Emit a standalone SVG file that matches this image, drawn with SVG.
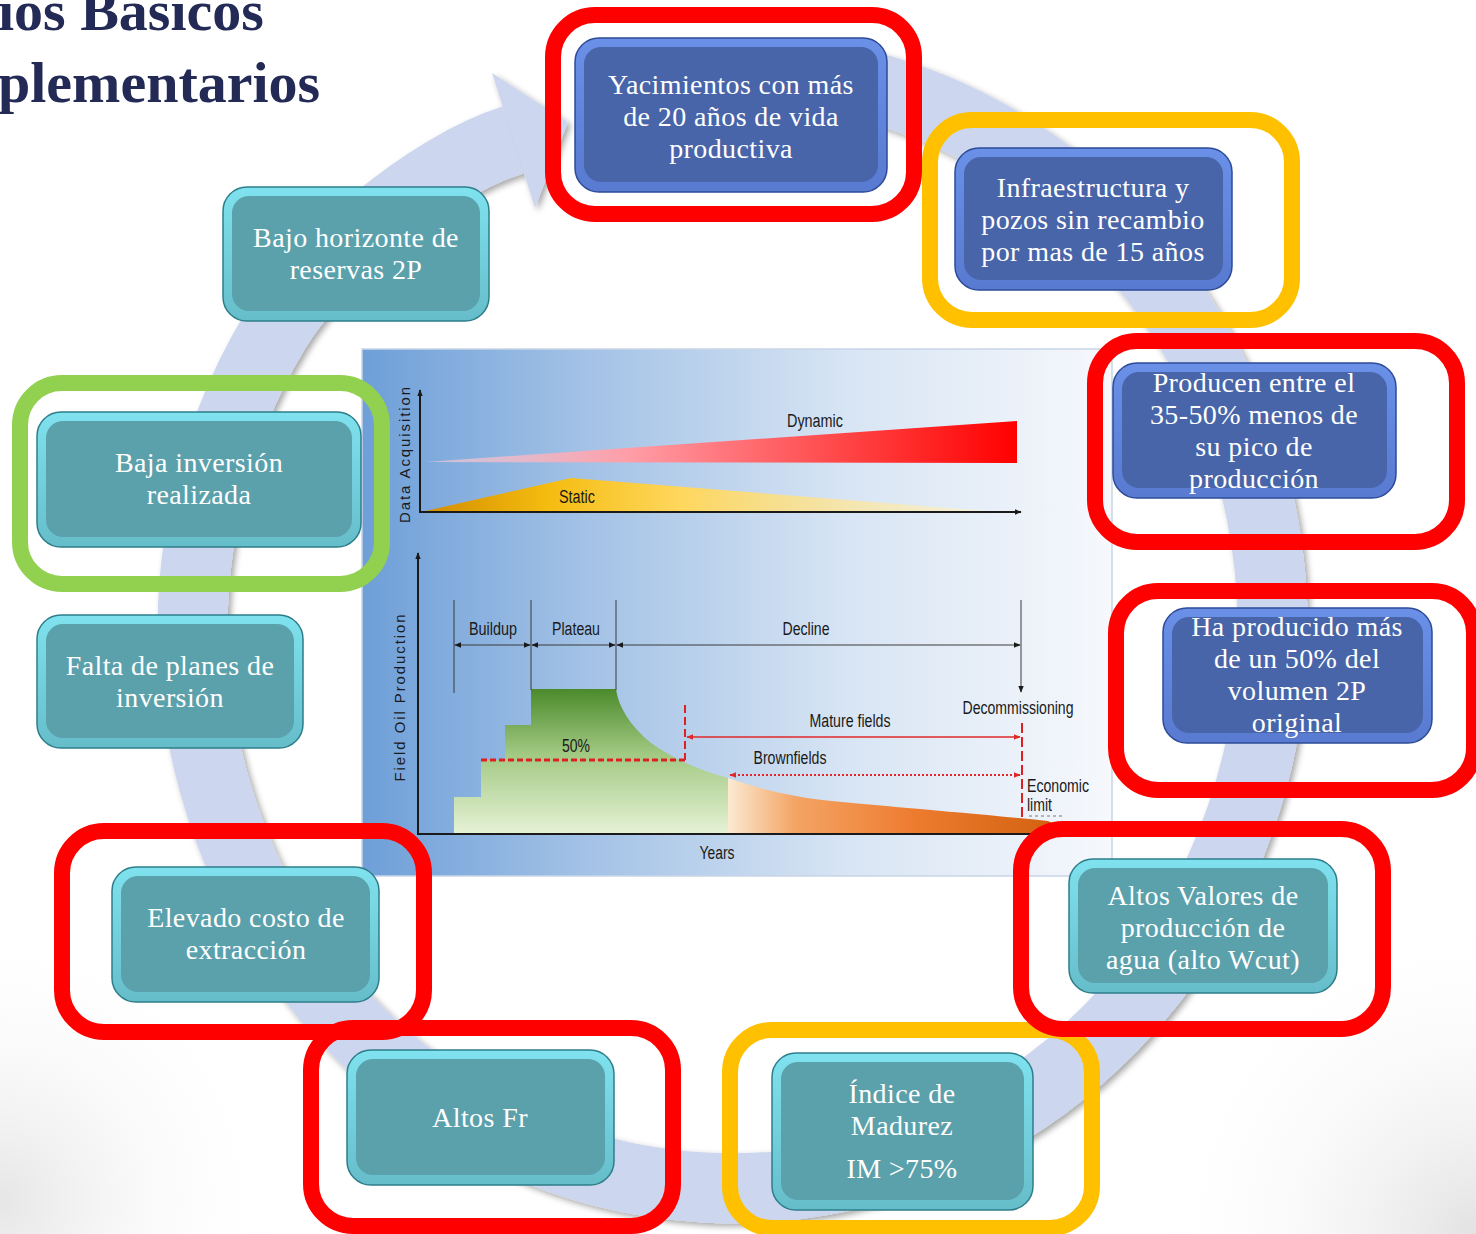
<svg xmlns="http://www.w3.org/2000/svg" width="1476" height="1234" viewBox="0 0 1476 1234">
<defs>
<style>
.title{font-family:"Liberation Serif","DejaVu Serif",serif;font-weight:bold;font-size:58px;fill:#232A55}
.lbl{font-family:"Liberation Serif","DejaVu Serif",serif;font-size:28px;letter-spacing:0.4px;fill:#ffffff;text-anchor:middle}
.ch{font-family:"Liberation Sans",Arial,sans-serif;font-size:18px;fill:#1a1a1a;text-anchor:middle}
.ax{font-family:"Liberation Sans",Arial,sans-serif;font-size:15px;fill:#1a1a1a;letter-spacing:1.9px;text-anchor:middle}
.frame{fill:none;stroke-width:16}
.red{stroke:#FF0000}.yel{stroke:#FFC000}.grn{stroke:#92D050}
.rimT{fill:url(#gRimT);stroke:#2E7E8A;stroke-width:1.5}
.faceT{fill:#5BA1AC}
.rimB{fill:url(#gRimB);stroke:#2D4B97;stroke-width:1.5}
.faceB{fill:#4965A9}
.axis{stroke:#1a1a1a;stroke-width:2;fill:none}
.thin{stroke:#3a3a3a;stroke-width:1;fill:none}
.band{fill:none;stroke:#CCD6EE;stroke-width:70}
</style>
<linearGradient id="gRimT" x1="0" y1="0" x2="0" y2="1"><stop offset="0" stop-color="#7FE2EE"/><stop offset="1" stop-color="#66BDCA"/></linearGradient>
<linearGradient id="gRimB" x1="0" y1="0" x2="0" y2="1"><stop offset="0" stop-color="#6A90E8"/><stop offset="1" stop-color="#587AD0"/></linearGradient>
<linearGradient id="gPanel" x1="0" y1="0" x2="1" y2="0"><stop offset="0" stop-color="#6E9FD8"/><stop offset="0.3" stop-color="#A3C2E6"/><stop offset="0.65" stop-color="#D8E5F4"/><stop offset="1" stop-color="#F6F8FC"/></linearGradient>
<linearGradient id="gDyn" x1="425" y1="0" x2="1017" y2="0" gradientUnits="userSpaceOnUse"><stop offset="0" stop-color="#F5D0DA" stop-opacity="0.6"/><stop offset="0.35" stop-color="#FF9CA6"/><stop offset="0.75" stop-color="#FF3B3B"/><stop offset="1" stop-color="#FF0000"/></linearGradient>
<linearGradient id="gStat" x1="421" y1="0" x2="1000" y2="0" gradientUnits="userSpaceOnUse"><stop offset="0" stop-color="#D08C00"/><stop offset="0.22" stop-color="#F5BC10"/><stop offset="0.45" stop-color="#FFD75E"/><stop offset="1" stop-color="#FFF3C8" stop-opacity="0.5"/></linearGradient>
<linearGradient id="gGreen" x1="0" y1="689" x2="0" y2="834" gradientUnits="userSpaceOnUse"><stop offset="0" stop-color="#4B8A2B"/><stop offset="0.45" stop-color="#A2C983"/><stop offset="1" stop-color="#E6F2D6"/></linearGradient>
<linearGradient id="gOrange" x1="728" y1="0" x2="1064" y2="0" gradientUnits="userSpaceOnUse"><stop offset="0" stop-color="#FBEAD2"/><stop offset="0.2" stop-color="#F4A464"/><stop offset="0.55" stop-color="#EE7C30"/><stop offset="1" stop-color="#D0600E"/></linearGradient>
<radialGradient id="gCornerR" cx="1476" cy="1234" r="320" gradientUnits="userSpaceOnUse"><stop offset="0" stop-color="#E2E2E2"/><stop offset="1" stop-color="#FFFFFF" stop-opacity="0"/></radialGradient>
<radialGradient id="gCornerL" cx="0" cy="1200" r="280" gradientUnits="userSpaceOnUse"><stop offset="0" stop-color="#E6E6E6"/><stop offset="1" stop-color="#FFFFFF" stop-opacity="0"/></radialGradient>
<filter id="shadow" x="-10%" y="-10%" width="120%" height="120%"><feDropShadow dx="3" dy="3" stdDeviation="3" flood-color="#000" flood-opacity="0.35"/></filter>
<marker id="mA" viewBox="0 0 10 10" refX="9" refY="5" markerWidth="7" markerHeight="7" markerUnits="userSpaceOnUse" orient="auto-start-reverse"><path d="M0,1 L10,5 L0,9 z" fill="#1a1a1a"/></marker>
<marker id="mR" viewBox="0 0 10 10" refX="9" refY="5" markerWidth="7" markerHeight="7" markerUnits="userSpaceOnUse" orient="auto-start-reverse"><path d="M0,1 L10,5 L0,9 z" fill="#E02828"/></marker>
</defs>

<rect width="1476" height="1234" fill="#FFFFFF"/>
<rect width="1476" height="1234" fill="url(#gCornerR)"/>
<rect width="1476" height="1234" fill="url(#gCornerL)"/>

<g id="title">
<text class="title" x="-2" y="30">ios Básicos</text>
<text class="title" x="-2" y="102">plementarios</text>
</g>

<g id="connectors" filter="url(#shadow)">
<path class="band" d="M 860 84 A 540 560 0 1 1 275 331 C 316 262 427 167 513 140"/>
<polygon points="492,73 568,122 535,208" fill="#CCD6EE"/>
</g>

<g id="chart">
<rect x="362" y="349" width="750" height="527" fill="url(#gPanel)" stroke="#C9D5E6" stroke-width="1.5"/>
<polygon points="425,462 1017,421 1017,463" fill="url(#gDyn)"/>
<polygon points="421,512 571,478 1000,512" fill="url(#gStat)"/>
<line class="axis" x1="420" y1="513" x2="420" y2="390" marker-end="url(#mA)"/>
<line class="axis" x1="420" y1="512" x2="1021" y2="512" marker-end="url(#mA)"/>
<text class="ch" x="815" y="427" textLength="56" lengthAdjust="spacingAndGlyphs">Dynamic</text>
<text class="ch" x="577" y="503" textLength="36" lengthAdjust="spacingAndGlyphs">Static</text>
<text class="ax" transform="translate(410,454) rotate(-90)">Data Acquisition</text>

<path d="M454 834 L454 797 L481 797 L481 760 L505 760 L505 725 L531 725 L531 689 L616 689 C618 706 630 726 651 743 C672 758 700 771 728 778 L728 834 Z" fill="url(#gGreen)"/>
<path d="M728 778 C760 789 790 796 822 800 C880 806 960 812 1048 821 L1066 830 L1066 834 L728 834 Z" fill="url(#gOrange)"/>
<line class="axis" x1="418" y1="835" x2="418" y2="553" marker-end="url(#mA)"/>
<line class="axis" x1="417" y1="834" x2="1075" y2="834"/>
<text class="ax" transform="translate(405,697) rotate(-90)">Field Oil Production</text>

<line class="thin" x1="454" y1="600" x2="454" y2="693"/>
<line class="thin" x1="531" y1="600" x2="531" y2="690"/>
<line class="thin" x1="616" y1="600" x2="616" y2="690"/>
<line class="thin" x1="1021" y1="600" x2="1021" y2="692" marker-end="url(#mA)"/>
<line class="thin" x1="455" y1="645" x2="530" y2="645" stroke-width="1.5" marker-start="url(#mA)" marker-end="url(#mA)"/>
<line class="thin" x1="532" y1="645" x2="615" y2="645" stroke-width="1.5" marker-start="url(#mA)" marker-end="url(#mA)"/>
<line class="thin" x1="617" y1="645" x2="1020" y2="645" stroke-width="1.5" marker-start="url(#mA)" marker-end="url(#mA)"/>
<text class="ch" x="493" y="635" textLength="48" lengthAdjust="spacingAndGlyphs">Buildup</text>
<text class="ch" x="576" y="635" textLength="48" lengthAdjust="spacingAndGlyphs">Plateau</text>
<text class="ch" x="806" y="635" textLength="47" lengthAdjust="spacingAndGlyphs">Decline</text>
<text class="ch" x="1018" y="714" textLength="111" lengthAdjust="spacingAndGlyphs">Decommissioning</text>

<line x1="481" y1="760" x2="685" y2="760" stroke="#E02020" stroke-width="3" stroke-dasharray="6 3"/>
<line x1="685" y1="705" x2="685" y2="760" stroke="#E02020" stroke-width="2" stroke-dasharray="8 4"/>
<line x1="1022" y1="723" x2="1022" y2="818" stroke="#E02020" stroke-width="2" stroke-dasharray="10 4"/>
<text class="ch" x="576" y="752" textLength="28" lengthAdjust="spacingAndGlyphs">50%</text>
<line x1="687" y1="737" x2="1020" y2="737" stroke="#E02828" stroke-width="1.5" marker-start="url(#mR)" marker-end="url(#mR)"/>
<text class="ch" x="850" y="727" textLength="81" lengthAdjust="spacingAndGlyphs">Mature fields</text>
<line x1="730" y1="775" x2="1020" y2="775" stroke="#E02828" stroke-width="2" stroke-dasharray="2 2" marker-start="url(#mR)" marker-end="url(#mR)"/>
<text class="ch" x="790" y="764" textLength="73" lengthAdjust="spacingAndGlyphs">Brownfields</text>
<text class="ch" x="1027" y="792" style="text-anchor:start" textLength="62" lengthAdjust="spacingAndGlyphs">Economic</text>
<text class="ch" x="1027" y="811" style="text-anchor:start" textLength="25" lengthAdjust="spacingAndGlyphs">limit</text>
<line x1="1029" y1="816" x2="1063" y2="816" stroke="#777" stroke-width="1" stroke-dasharray="3 3"/>
<text class="ch" x="717" y="859" textLength="35" lengthAdjust="spacingAndGlyphs">Years</text>
</g>

<g id="n-yacimientos">
<rect class="frame red" x="553" y="15" width="361" height="199" rx="42"/>
<rect class="rimB" x="575" y="38" width="312" height="154" rx="24"/>
<rect class="faceB" x="584" y="47" width="294" height="135" rx="17"/>
<text class="lbl" x="731" y="94">Yacimientos con más</text>
<text class="lbl" x="731" y="126">de 20 años de vida</text>
<text class="lbl" x="731" y="158">productiva</text>
</g>

<g id="n-infraestructura">
<rect class="frame yel" x="930" y="120" width="362" height="200" rx="42"/>
<rect class="rimB" x="955" y="148" width="277" height="142" rx="24"/>
<rect class="faceB" x="964" y="157" width="259" height="123" rx="17"/>
<text class="lbl" x="1093" y="197">Infraestructura y</text>
<text class="lbl" x="1093" y="229">pozos sin recambio</text>
<text class="lbl" x="1093" y="261">por mas de 15 años</text>
</g>

<g id="n-producen">
<rect class="frame red" x="1095" y="341" width="362" height="201" rx="42"/>
<rect class="rimB" x="1113" y="363" width="283" height="135" rx="24"/>
<rect class="faceB" x="1122" y="372" width="265" height="116" rx="17"/>
<text class="lbl" x="1254" y="392">Producen entre el</text>
<text class="lbl" x="1254" y="424">35-50% menos de</text>
<text class="lbl" x="1254" y="456">su pico de</text>
<text class="lbl" x="1254" y="488">producción</text>
</g>

<g id="n-ha-producido">
<rect class="frame red" x="1116" y="591" width="358" height="199" rx="42"/>
<rect class="rimB" x="1163" y="608" width="269" height="135" rx="24"/>
<rect class="faceB" x="1172" y="617" width="251" height="116" rx="17"/>
<text class="lbl" x="1297" y="636">Ha producido más</text>
<text class="lbl" x="1297" y="668">de un 50% del</text>
<text class="lbl" x="1297" y="700">volumen 2P</text>
<text class="lbl" x="1297" y="732">original</text>
</g>

<g id="n-bajo-horizonte">
<rect class="rimT" x="223" y="187" width="266" height="134" rx="24"/>
<rect class="faceT" x="232" y="196" width="248" height="115" rx="17"/>
<text class="lbl" x="356" y="247">Bajo horizonte de</text>
<text class="lbl" x="356" y="279">reservas 2P</text>
</g>

<g id="n-baja-inversion">
<rect class="frame grn" x="20" y="383" width="362" height="201" rx="42"/>
<rect class="rimT" x="37" y="412" width="324" height="135" rx="24"/>
<rect class="faceT" x="46" y="421" width="306" height="116" rx="17"/>
<text class="lbl" x="199" y="472">Baja inversión</text>
<text class="lbl" x="199" y="504">realizada</text>
</g>

<g id="n-falta-planes">
<rect class="rimT" x="37" y="615" width="266" height="133" rx="24"/>
<rect class="faceT" x="46" y="624" width="248" height="114" rx="17"/>
<text class="lbl" x="170" y="675">Falta de planes de</text>
<text class="lbl" x="170" y="707">inversión</text>
</g>

<g id="n-elevado-costo">
<rect class="frame red" x="62" y="831" width="362" height="201" rx="42"/>
<rect class="rimT" x="112" y="867" width="267" height="135" rx="24"/>
<rect class="faceT" x="121" y="876" width="249" height="116" rx="17"/>
<text class="lbl" x="246" y="927">Elevado costo de</text>
<text class="lbl" x="246" y="959">extracción</text>
</g>

<g id="n-altos-fr">
<rect class="frame red" x="311" y="1028" width="362" height="198" rx="42"/>
<rect class="rimT" x="347" y="1050" width="267" height="135" rx="24"/>
<rect class="faceT" x="356" y="1059" width="249" height="116" rx="17"/>
<text class="lbl" x="480" y="1127">Altos Fr</text>
</g>

<g id="n-indice-madurez">
<rect class="frame yel" x="730" y="1030" width="362" height="198" rx="42"/>
<rect class="rimT" x="772" y="1053" width="261" height="157" rx="24"/>
<rect class="faceT" x="781" y="1062" width="243" height="138" rx="17"/>
<text class="lbl" x="902" y="1103">Índice de</text>
<text class="lbl" x="902" y="1135">Madurez</text>
<text class="lbl" x="902" y="1178">IM &gt;75%</text>
</g>

<g id="n-altos-valores">
<rect class="frame red" x="1021" y="829" width="362" height="200" rx="42"/>
<rect class="rimT" x="1069" y="859" width="268" height="134" rx="24"/>
<rect class="faceT" x="1078" y="868" width="250" height="115" rx="17"/>
<text class="lbl" x="1203" y="905">Altos Valores de</text>
<text class="lbl" x="1203" y="937">producción de</text>
<text class="lbl" x="1203" y="969">agua (alto Wcut)</text>
</g>
</svg>
